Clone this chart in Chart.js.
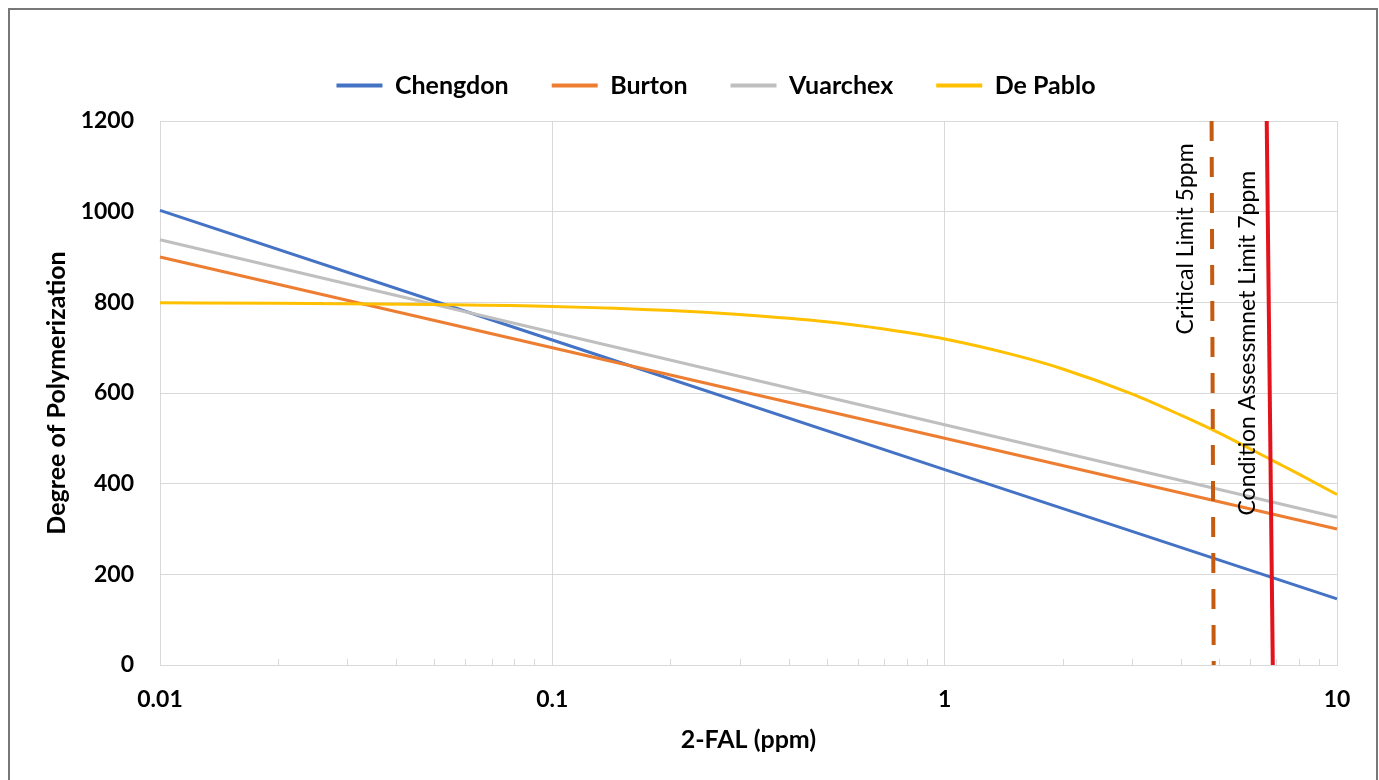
<!DOCTYPE html>
<html>
<head>
<meta charset="utf-8">
<script src="https://cdn.jsdelivr.net/npm/chart.js@4.4.1/dist/chart.umd.min.js"></script>
<style>
  body { margin: 0; background: #fff; }
</style>
</head>
<body>
<canvas id="chart" width="1379" height="780"></canvas>
<script>
// 2-FAL (ppm) sample points
const falLinear = [0.01, 0.1, 1, 10];
const chengdon = [1003, 717, 431, 146];
const burton = [900, 700, 500, 300];
const vuarchex = [938, 734, 530, 326];

const falDePablo = [0.01, 0.02, 0.05, 0.1, 0.2, 0.3, 0.5, 0.7, 1, 1.5, 2, 3, 4, 5, 6, 7, 8, 10];
const dePablo = [799, 798, 795, 791, 782, 773, 757, 741, 719, 684, 653, 598, 551, 512, 477, 447, 421, 376];

// limit lines (top, bottom)
const criticalX = [4.79, 4.85];
const conditionX = [6.62, 6.86];
const limitY = [1200, 0];

const seriesNames = ["Chengdon", "Burton", "Vuarchex", "De Pablo"];
const yTicks = [0, 200, 400, 600, 800, 1000, 1200];

const pts = (xs, ys) => xs.map((x, i) => ({ x: x, y: ys[i] }));
const isDecade = (v) => Math.abs(Math.log10(v) - Math.round(Math.log10(v))) < 1e-6;

const FONT = "Lato";

// frame, minor ticks and rotated labels
const extras = {
  id: "extras",
  beforeDraw(chart) {
    const ctx = chart.ctx;
    ctx.save();
    ctx.fillStyle = "#fff";
    ctx.fillRect(0, 0, chart.width, chart.height);
    ctx.restore();
  },
  afterDatasetsDraw(chart) {
    const ctx = chart.ctx;
    const x = chart.scales.x;
    const y = chart.scales.y;
    const bottom = chart.chartArea.bottom;
    ctx.save();
    // minor ticks inside the plot
    ctx.strokeStyle = "#d9d9d9";
    ctx.lineWidth = 1;
    for (let e = -2; e <= 0; e++) {
      for (let m = 2; m <= 9; m++) {
        const px = Math.round(x.getPixelForValue(m * Math.pow(10, e))) + 0.5;
        ctx.beginPath();
        ctx.moveTo(px, bottom);
        ctx.lineTo(px, bottom - 6);
        ctx.stroke();
      }
    }
    // rotated labels
    ctx.fillStyle = "#000";
    ctx.font = "23px " + FONT;
    ctx.textAlign = "center";
    ctx.textBaseline = "middle";
    ctx.save();
    ctx.translate(x.getPixelForValue(5) - 33, y.getPixelForValue(940));
    ctx.rotate(-Math.PI / 2);
    ctx.fillText("Critical Limit 5ppm", 0, 0);
    ctx.restore();
    ctx.save();
    ctx.translate(x.getPixelForValue(7) - 29, y.getPixelForValue(710));
    ctx.rotate(-Math.PI / 2);
    ctx.fillText("Condition Assessmnet Limit 7ppm", 0, 0);
    ctx.restore();
    // outer frame
    ctx.strokeStyle = "#777";
    ctx.lineWidth = 2;
    ctx.beginPath();
    ctx.moveTo(9, 790);
    ctx.lineTo(9, 9);
    ctx.lineTo(1377, 9);
    ctx.lineTo(1377, 790);
    ctx.stroke();
    ctx.restore();
  }
};

new Chart(document.getElementById("chart"), {
  type: "line",
  data: {
    datasets: [
      { label: seriesNames[0], data: pts(falLinear, chengdon), borderColor: "#4472C4", order: 4 },
      { label: seriesNames[1], data: pts(falLinear, burton), borderColor: "#ED7D31", order: 3 },
      { label: seriesNames[2], data: pts(falLinear, vuarchex), borderColor: "#BFBFBF", order: 2 },
      { label: seriesNames[3], data: pts(falDePablo, dePablo), borderColor: "#FFC000", order: 1,
        cubicInterpolationMode: "monotone" },
      { label: "critical", data: pts(criticalX, limitY), borderColor: "#C55A11", borderWidth: 4,
        borderDash: [20, 16], order: 0 },
      { label: "condition", data: pts(conditionX, limitY), borderColor: "#E3131B", borderWidth: 4, order: 0 }
    ]
  },
  options: {
    responsive: false,
    animation: false,
    devicePixelRatio: 1,
    clip: false,
    // left padding pushes the centred legend to the right, as in Excel
    layout: { padding: { left: 53, right: 0, top: 30, bottom: 0 } },
    elements: {
      point: { radius: 0, borderWidth: 4 },
      line: { borderWidth: 3, fill: false }
    },
    plugins: {
      tooltip: { enabled: false },
      legend: {
        position: "top",
        labels: {
          usePointStyle: true,
          pointStyle: "line",
          pointStyleWidth: 46,
          padding: 43,
          color: "#000",
          font: { family: FONT, size: 25, weight: "bold" },
          filter: (item) => seriesNames.includes(item.text),
          sort: (a, b) => a.datasetIndex - b.datasetIndex
        }
      }
    },
    scales: {
      x: {
        type: "logarithmic",
        min: 0.01,
        max: 10,
        afterFit: (s) => { s.height = 115; },
        afterBuildTicks: (s) => { s.ticks = s.ticks.filter(t => isDecade(t.value)); },
        grid: { color: "#d9d9d9", drawTicks: false },
        border: { color: "#d9d9d9" },
        ticks: {
          autoSkip: false,
          maxRotation: 0,
          padding: 21,
          color: "#000",
          font: { family: FONT, size: 23, weight: "bold" },
          callback: (v) => isDecade(v) ? String(v) : ""
        },
        title: {
          display: true,
          text: "2-FAL (ppm)",
          color: "#000",
          padding: { top: 25, bottom: 25 },
          font: { family: FONT, size: 25, weight: "bold" }
        }
      },
      xTop: {
        type: "linear",
        position: "top",
        display: true,
        afterFit: (s) => { s.height = 13; },
        grid: { display: false },
        border: { display: false },
        ticks: { display: false }
      },
      yRight: {
        type: "linear",
        position: "right",
        display: true,
        afterFit: (s) => { s.width = 42; },
        grid: { display: false },
        border: { display: false },
        ticks: { display: false }
      },
      y: {
        min: 0,
        max: 1200,
        afterFit: (s) => { s.width = 107; },
        afterBuildTicks: (s) => { s.ticks = yTicks.map(v => ({ value: v })); },
        grid: { color: "#d9d9d9", drawTicks: false },
        border: { color: "#d9d9d9" },
        ticks: {
          padding: 26,
          color: "#000",
          font: { family: FONT, size: 23, weight: "bold" },
          callback: (v) => String(v)
        },
        title: {
          display: true,
          text: "Degree of Polymerization",
          color: "#000",
          padding: { top: 0, bottom: 0 },
          font: { family: FONT, size: 25, weight: "bold", lineHeight: 0.3 }
        }
      }
    }
  },
  plugins: [extras]
});
</script>
</body>
</html>
